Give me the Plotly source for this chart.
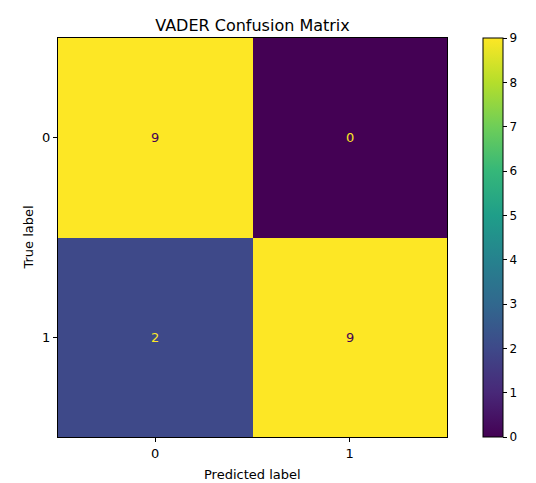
import plotly.graph_objects as go

labels = ["0", "1"]
matrix = [[9, 0], [2, 9]]
colorbar_ticks = list(range(0, 10))

viridis_lo = "#440154"
viridis_hi = "#fde725"
vmax = max(max(r) for r in matrix)
vmin = min(min(r) for r in matrix)
thresh = (vmax + vmin) / 2

FONT = "DejaVu Sans"
L, R, T, B = 58, 447, 38, 437
W, H = 536, 483

fig = go.Figure()
fig.add_trace(go.Heatmap(
    z=matrix, x=[0, 1], y=[0, 1],
    colorscale="Viridis", zmin=vmin, zmax=vmax,
    showscale=True,
    colorbar=dict(
        x=(483 - L) / (R - L), xanchor="left", xref="paper",
        y=0, yanchor="bottom", len=1, lenmode="fraction",
        xpad=0, ypad=0,
        thickness=20, thicknessmode="pixels",
        outlinewidth=1, outlinecolor="black",
        tickvals=colorbar_ticks, ticks="outside", ticklen=4,
        tickcolor="black",
        tickfont=dict(size=12, color="black", family=FONT),
    ),
))

for i, row in enumerate(matrix):
    for j, v in enumerate(row):
        fig.add_annotation(
            x=j, y=i, text=str(v), showarrow=False,
            font=dict(size=13, family=FONT,
                      color=viridis_lo if v > thresh else viridis_hi),
        )

fig.add_annotation(text="Predicted label", xref="paper", yref="paper",
                   x=0.5, y=-(474 - B) / (B - T), xanchor="center", yanchor="middle",
                   showarrow=False, font=dict(size=13, color="black", family=FONT))
fig.add_annotation(text="True label", xref="paper", yref="paper",
                   x=-(L - 28) / (R - L), y=0.5, xanchor="center", yanchor="middle",
                   textangle=-90,
                   showarrow=False, font=dict(size=13, color="black", family=FONT))

axis_common = dict(
    showline=True, linecolor="black", linewidth=1, mirror=True,
    ticks="outside", ticklen=4, tickcolor="black",
    showgrid=False, zeroline=False, automargin=False,
    tickfont=dict(size=13, color="black", family=FONT),
    tickvals=[0, 1], ticktext=labels,
)

fig.update_layout(
    width=W, height=H,
    margin=dict(l=L, r=W - R, t=T, b=H - B, autoexpand=False),
    paper_bgcolor="white", plot_bgcolor="white",
    title=dict(text="VADER Confusion Matrix", x=(L + R) / 2 / W,
               xanchor="center", y=1 - 25 / H, yanchor="middle",
               font=dict(size=16, color="black", family=FONT)),
    xaxis=dict(range=[-0.5, 1.5], **axis_common),
    yaxis=dict(range=[1.5, -0.5], **axis_common),
)

fig.write_html("out.html")
